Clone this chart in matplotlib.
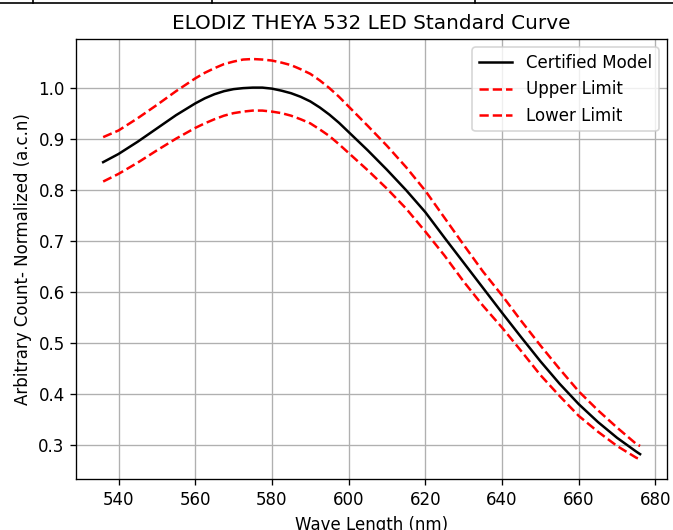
import matplotlib
matplotlib.use("Agg")
import matplotlib.pyplot as plt
from matplotlib.lines import Line2D

# wavelength samples (nm) and values
wave = [536, 540, 545, 550, 555, 560, 562.5, 565, 567.5, 570, 572.5, 575,
        577.5, 580, 582.5, 585, 587.5, 590, 592.5, 595, 597.5, 600,
        605, 610, 615, 620, 625, 630, 635, 640, 645, 650, 655, 660, 665, 670,
        675, 676]

certified = [0.854, 0.870, 0.894, 0.920, 0.946, 0.969, 0.979, 0.987, 0.993,
             0.997, 0.999, 1.000, 1.000, 0.998, 0.994, 0.989, 0.982, 0.973,
             0.961, 0.947, 0.931, 0.913,
             0.877, 0.839, 0.799, 0.756, 0.706, 0.657, 0.608, 0.559, 0.511,
             0.464, 0.420, 0.380, 0.345, 0.314, 0.287, 0.282]

upper = [0.903, 0.916, 0.940, 0.966, 0.993, 1.018, 1.029, 1.038, 1.046,
         1.051, 1.055, 1.056, 1.055, 1.053, 1.049, 1.044, 1.036, 1.027,
         1.014, 0.999, 0.982, 0.963,
         0.925, 0.886, 0.844, 0.798, 0.745, 0.692, 0.640, 0.593, 0.543,
         0.495, 0.449, 0.405, 0.368, 0.334, 0.302, 0.298]

lower = [0.816, 0.831, 0.853, 0.877, 0.900, 0.921, 0.930, 0.938, 0.945,
         0.950, 0.953, 0.955, 0.955, 0.953, 0.950, 0.945, 0.938, 0.930,
         0.918, 0.905, 0.889, 0.872,
         0.838, 0.802, 0.763, 0.718, 0.671, 0.620, 0.573, 0.530, 0.484,
         0.437, 0.396, 0.357, 0.326, 0.298, 0.275, 0.272]

DPI = 120
fig = plt.figure(figsize=(673 / DPI, 530 / DPI), dpi=DPI)
ax = fig.add_axes([0.1134, 0.0957, 0.991 - 0.1134, 0.9264 - 0.0957])

ax.plot(wave, certified, color="black", label="Certified Model")
ax.plot(wave, upper, "r--", label="Upper Limit")
ax.plot(wave, lower, "r--", label="Lower Limit")

ax.set_title("ELODIZ THEYA 532 LED Standard Curve")
ax.set_xlabel("Wave Length (nm)")
ax.set_ylabel("Arbitrary Count- Normalized (a.c.n)")
ax.grid(True)
ax.legend(loc="upper right")

# bit of a table border cropped in at the top of the screenshot
yb = 1 - 2.7 / 530
fig.add_artist(Line2D([0, 1], [yb, yb], color="black", lw=1.0))
for xp in [33.3, 211.7, 475]:
    fig.add_artist(Line2D([xp / 673, xp / 673], [yb, 1], color="black", lw=1.0))

fig.savefig("out.png", dpi=DPI)
